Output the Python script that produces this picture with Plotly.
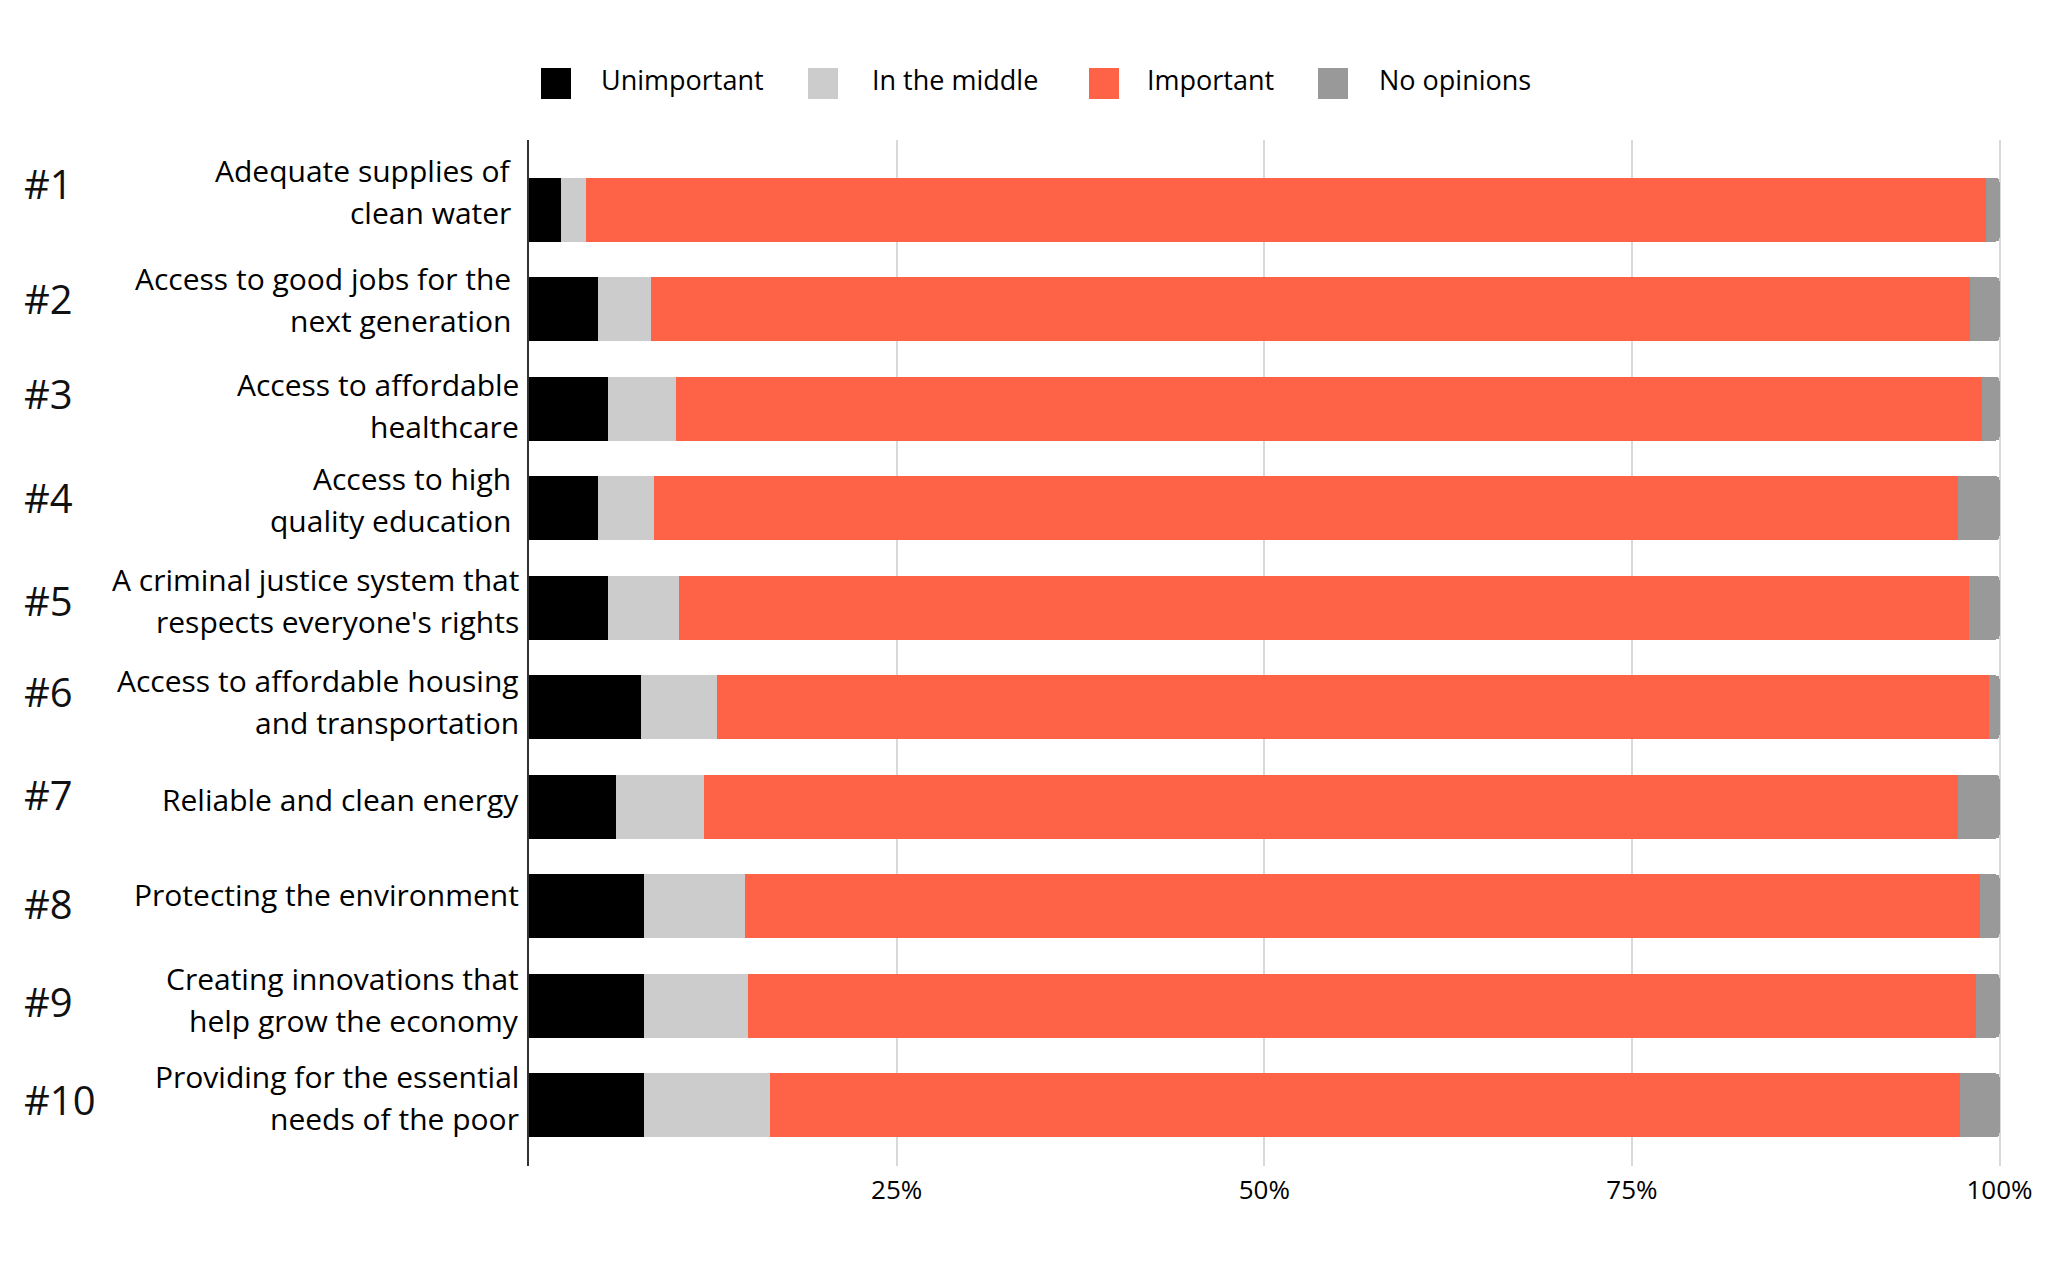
import plotly.graph_objects as go

# ---------------- data ----------------
ranks = ["#1", "#2", "#3", "#4", "#5", "#6", "#7", "#8", "#9", "#10"]
issues = [
    "Adequate supplies of<br>clean water",
    "Access to good jobs for the<br>next generation",
    "Access to affordable<br>healthcare",
    "Access to high<br>quality education",
    "A criminal justice system that<br>respects everyone's rights",
    "Access to affordable housing<br>and transportation",
    "Reliable and clean energy",
    "Protecting the environment",
    "Creating innovations that<br>help grow the economy",
    "Providing for the essential<br>needs of the poor",
]
series_names = ["Unimportant", "In the middle", "Important", "No opinions"]
unimportant = [2.2, 4.7, 5.4, 4.7, 5.4, 7.6, 5.9, 7.8, 7.8, 7.8]
in_the_middle = [1.7, 3.6, 4.6, 3.8, 4.8, 5.2, 6.0, 6.9, 7.1, 8.6]
important = [95.2, 89.7, 88.8, 88.7, 87.7, 86.5, 85.3, 84.0, 83.5, 80.9]
no_opinions = [0.9, 2.0, 1.2, 2.8, 2.1, 0.7, 2.8, 1.3, 1.6, 2.7]
x_tick_values = [25, 50, 75, 100]
x_tick_labels = ["25%", "50%", "75%", "100%"]

# ---------------- style / layout ----------------
colors = ["#000000", "#cccccc", "#ff6347", "#999999"]
FONT = "Open Sans"
W, H = 2048, 1265
ML, MR, MT, MB = 521, 55, 132, 107
PW, PH = W - ML - MR, H - MT - MB
ROW_PX = 99.5          # pixel height of one category row
LABEL_SIZE = 30
LINE_PX = 42           # line spacing of the category labels
BASE_TO_MID = 11.6     # baseline -> text box centre (px) for Open Sans 30px


def px_x(x):
    return (x - ML) / PW


def px_y(y):
    return (H - MB - y) / PH


rank_dy_px = [-26, -11, -15, -11, -7, -16, -12, -3, -4, -6]
label_dy_px = [-7, 2, 8, 3, 4, 6, 4, 0, 5, 4]
label_dx_px = [-8, -8, 0, -8, 0, 0, 0, 0, 0, 0]
LABEL_RIGHT = 513

fig = go.Figure()
positions = list(range(len(issues)))
for name, vals, col in zip(series_names, [unimportant, in_the_middle, important, no_opinions], colors):
    fig.add_trace(go.Bar(
        y=positions, x=vals, name=name, orientation="h",
        marker=dict(color=col, line=dict(width=0)),
        width=0.64, showlegend=False,
        hovertemplate="%{x}%<extra>" + name + "</extra>",
    ))

annotations = []
shapes = []
# rank labels
for i, r in enumerate(ranks):
    annotations.append(dict(
        x=px_x(14), xref="paper", xanchor="left",
        y=i + rank_dy_px[i] / ROW_PX, yref="y", yanchor="middle",
        text=r, showarrow=False,
        font=dict(family=FONT, size=40, color="#111111"),
    ))

# category labels, one annotation per line so line spacing can match
for i, lab in enumerate(issues):
    lines = lab.split("<br>")
    n = len(lines)
    for k, line in enumerate(lines):
        base = label_dy_px[i] + (k - (n - 1) / 2) * LINE_PX
        annotations.append(dict(
            x=px_x(LABEL_RIGHT + label_dx_px[i]), xref="paper", xanchor="right",
            y=i + (base - BASE_TO_MID) / ROW_PX, yref="y", yanchor="middle",
            text=line, showarrow=False, align="right",
            font=dict(family=FONT, size=LABEL_SIZE, color="#000000"),
        ))

# manual legend with large square swatches
sq_left = [533, 800, 1081, 1310]
txt_left = [591, 862, 1137, 1369]
for name, col, sx, tx in zip(series_names, colors, sq_left, txt_left):
    shapes.append(dict(
        type="rect", xref="paper", yref="paper",
        x0=px_x(sx), x1=px_x(sx + 30), y0=px_y(91), y1=px_y(60),
        fillcolor=col, line=dict(width=0), layer="above",
    ))
    annotations.append(dict(
        x=px_x(tx), xref="paper", xanchor="left",
        y=px_y(71), yref="paper", yanchor="middle",
        text=name, showarrow=False,
        font=dict(family=FONT, size=27, color="#000000"),
    ))

fig.update_layout(
    width=W, height=H,
    margin=dict(l=ML, r=MR, t=MT, b=MB, pad=0),
    paper_bgcolor="white", plot_bgcolor="white",
    barmode="stack", barcornerradius=4,
    showlegend=False,
    font=dict(family=FONT, color="#000000"),
    annotations=annotations, shapes=shapes,
    xaxis=dict(
        range=[0, 100.1], tickvals=x_tick_values, ticktext=x_tick_labels,
        showgrid=True, gridcolor="#d9d9d9", gridwidth=2,
        zeroline=False, showline=False, ticks="",
        tickfont=dict(family=FONT, size=26, color="#000000"),
        ticklabelstandoff=6, fixedrange=True,
    ),
    yaxis=dict(
        range=[9.61, -0.70], tickvals=positions,
        showticklabels=False,
        showgrid=False, zeroline=False,
        showline=True, linecolor="#333333", linewidth=2,
        ticks="", fixedrange=True,
    ),
)

fig.write_html("out.html")
